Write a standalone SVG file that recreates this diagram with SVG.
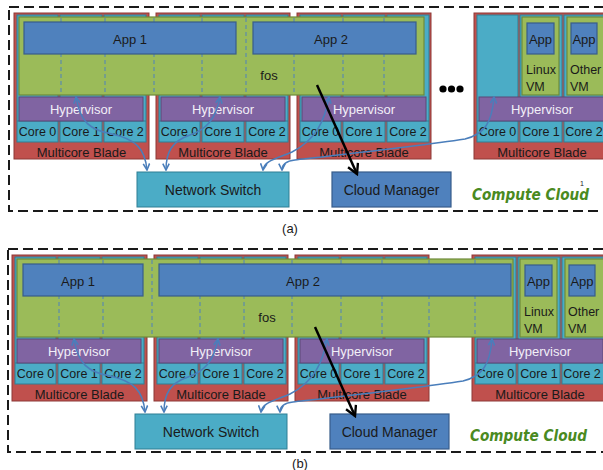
<svg xmlns="http://www.w3.org/2000/svg" width="603" height="470" viewBox="0 0 603 470">
<style>
  .frame{fill:none;stroke:#1a1a1a;stroke-width:2;stroke-dasharray:10 5}
  .red{fill:#c0504d;stroke:#8c3836;stroke-width:1}
  .cy{fill:#4bacc6;stroke:#2f7f94;stroke-width:1}
  .hv{fill:#8064a2;stroke:#5c4776;stroke-width:1}
  .fos{fill:#9bbb59;stroke:#6e8a3a;stroke-width:1.2}
  .app{fill:#4f81bd;stroke:#385d8a;stroke-width:1.2}
  .div{stroke:#4f81bd;stroke-width:1;stroke-dasharray:4 3;fill:none}
  .t{font-family:"Liberation Sans",Arial,sans-serif;fill:#1a1a1a;text-anchor:middle}
  .s13{font-size:13px}
  .s12{font-size:12.5px}
  .s14{font-size:14px}
  .w{fill:#f2eff7}
  .l{text-anchor:start}
  .cc{font-family:"Comic Sans MS","DejaVu Sans",sans-serif;font-style:italic;font-weight:bold;font-size:15px;fill:#4a8a1f}
  .con{fill:none;stroke:#4a7ebb;stroke-width:1.5}
  .blk{fill:none;stroke:#000;stroke-width:2.5}
</style>
<defs>
  <marker id="ab" viewBox="0 0 10 10" refX="9" refY="5" markerWidth="8" markerHeight="8" markerUnits="userSpaceOnUse" orient="auto-start-reverse">
    <path d="M1,1 L9,5 L1,9" fill="none" stroke="#4a7ebb" stroke-width="2"/>
  </marker>
  <marker id="ak" viewBox="0 0 12 12" refX="10" refY="6" markerWidth="13" markerHeight="13" markerUnits="userSpaceOnUse" orient="auto">
    <path d="M1,1 L10,6 L1,11" fill="none" stroke="#000" stroke-width="2.2"/>
  </marker>
</defs>

<!-- ========== Panel (a) ========== -->
<g id="panel-a">
  <rect class="frame" x="9" y="7" width="620" height="204"/>

  <g id="blade1-a">
    <rect class="red" x="14" y="13" width="135" height="146"/>
    <rect class="cy" x="17" y="15" width="41" height="127"/>
    <rect class="cy" x="60" y="15" width="42" height="127"/>
    <rect class="cy" x="104" y="15" width="42" height="127"/>
    <line x1="17" y1="121" x2="146" y2="121" stroke="#2f7f94"/>
    <rect class="hv" x="19" y="97" width="124" height="24"/>
    <text class="t s13 w" x="81" y="114">Hypervisor</text>
    <text class="t s12" x="37.5" y="136">Core 0</text>
    <text class="t s12" x="81" y="136">Core 1</text>
    <text class="t s12" x="125" y="136">Core 2</text>
    <text class="t s13" x="81.5" y="157">Multicore Blade</text>
  </g>
  <g id="blade2-a">
    <rect class="red" x="156" y="13" width="134" height="146"/>
    <rect class="cy" x="159" y="15" width="41" height="127"/>
    <rect class="cy" x="202" y="15" width="42" height="127"/>
    <rect class="cy" x="246" y="15" width="42" height="127"/>
    <line x1="159" y1="121" x2="288" y2="121" stroke="#2f7f94"/>
    <rect class="hv" x="161" y="97" width="124" height="24"/>
    <text class="t s13 w" x="223" y="114">Hypervisor</text>
    <text class="t s12" x="179.5" y="136">Core 0</text>
    <text class="t s12" x="223" y="136">Core 1</text>
    <text class="t s12" x="267" y="136">Core 2</text>
    <text class="t s13" x="223" y="157">Multicore Blade</text>
  </g>
  <g id="blade3-a">
    <rect class="red" x="297" y="13" width="134" height="146"/>
    <rect class="cy" x="300" y="15" width="41" height="127"/>
    <rect class="cy" x="343" y="15" width="42" height="127"/>
    <rect class="cy" x="387" y="15" width="42" height="127"/>
    <line x1="300" y1="121" x2="429" y2="121" stroke="#2f7f94"/>
    <rect class="hv" x="302" y="97" width="124" height="24"/>
    <text class="t s13 w" x="364" y="114">Hypervisor</text>
    <text class="t s12" x="320.5" y="136">Core 0</text>
    <text class="t s12" x="364" y="136">Core 1</text>
    <text class="t s12" x="408" y="136">Core 2</text>
    <text class="t s13" x="364" y="157">Multicore Blade</text>
  </g>
  <g id="blade4-a">
    <rect class="red" x="474" y="13" width="140" height="146"/>
    <rect class="cy" x="477" y="15" width="41" height="127"/>
    <rect class="cy" x="520" y="15" width="42" height="127"/>
    <rect class="cy" x="564" y="15" width="42" height="127"/>
    <line x1="477" y1="121" x2="606" y2="121" stroke="#2f7f94"/>
    <rect class="hv" x="479" y="97" width="126" height="24"/>
    <text class="t s13 w" x="542" y="114">Hypervisor</text>
    <text class="t s12" x="497.5" y="136">Core 0</text>
    <text class="t s12" x="541" y="136">Core 1</text>
    <text class="t s12" x="584" y="136">Core 2</text>
    <text class="t s13" x="542" y="157">Multicore Blade</text>
  </g>

  <g id="fos-a">
    <rect class="fos" x="19" y="17" width="405" height="78"/>
    <path class="div" d="M61,18V94M105,18V94M154,18V94M202,18V94M246,18V94M294,18V94M343,18V94M384,18V94"/>
    <text class="t s13" x="269" y="80">fos</text>
  </g>
  <g id="app1-a">
    <rect class="app" x="24" y="22" width="212" height="32"/>
    <text class="t s13" x="130" y="44">App 1</text>
  </g>
  <g id="app2-a">
    <rect class="app" x="253" y="22" width="163" height="32"/>
    <text class="t s13" x="331" y="44">App 2</text>
  </g>

  <g id="ellipsis-a" fill="#000">
    <circle cx="443" cy="89" r="3.6"/>
    <circle cx="451.5" cy="89" r="3.6"/>
    <circle cx="460" cy="89" r="3.6"/>
  </g>

  <g id="linuxvm-a">
    <rect class="fos" x="522" y="17" width="37" height="78"/>
    <rect class="app" x="527" y="23" width="27" height="31"/>
    <text class="t s13" x="540.5" y="44">App</text>
    <text class="t s12 l" x="526" y="74">Linux</text>
    <text class="t s12 l" x="526" y="91">VM</text>
  </g>
  <g id="othervm-a">
    <rect class="fos" x="567" y="17" width="40" height="78"/>
    <rect class="app" x="571" y="23" width="26" height="31"/>
    <text class="t s13" x="584" y="44">App</text>
    <text class="t s12 l" x="570" y="74">Other</text>
    <text class="t s12 l" x="570" y="91">VM</text>
  </g>

  <g id="switch-a">
    <rect class="cy" x="137" y="172" width="152" height="35"/>
    <text class="t s14" x="213" y="195">Network Switch</text>
  </g>
  <g id="manager-a">
    <rect class="app" x="332" y="172" width="119" height="35"/>
    <text class="t s14" x="391.5" y="195">Cloud Manager</text>
  </g>
  <g id="cloud-label-a">
    <text class="cc" x="472" y="200" textLength="117" lengthAdjust="spacingAndGlyphs">Compute Cloud</text>
    <text class="t" x="582" y="186" style="font-size:7px">1</text>
  </g>

  <g id="connectors-a">
    <path class="con" marker-start="url(#ab)" marker-end="url(#ab)" d="M76,97 C80,122 90,130 112,134 C135,139 145,148 147,170"/>
    <path class="con" marker-start="url(#ab)" marker-end="url(#ab)" d="M220,97 C216,120 205,130 190,135 C172,141 166,152 166,170"/>
    <path class="con" marker-start="url(#ab)" marker-end="url(#ab)" d="M329,97 C325,120 316,140 292,152 C275,159 264,161 263,170"/>
    <path class="con" marker-start="url(#ab)" marker-end="url(#ab)" d="M494,97 C492,122 485,134 465,139 C420,146 330,156 295,160 C286,161 282,164 282,170"/>
    <path class="blk" marker-end="url(#ak)" d="M317,85 L357,174"/>
  </g>

  <text class="t s13" x="290" y="233">(a)</text>
</g>

<!-- ========== Panel (b) ========== -->
<g id="panel-b" transform="translate(-2,242)">
  <rect class="frame" x="10" y="7" width="620" height="203"/>

  <g id="blade1-b">
    <rect class="red" x="14" y="13" width="135" height="146"/>
    <rect class="cy" x="17" y="15" width="41" height="127"/>
    <rect class="cy" x="60" y="15" width="42" height="127"/>
    <rect class="cy" x="104" y="15" width="42" height="127"/>
    <line x1="17" y1="121" x2="146" y2="121" stroke="#2f7f94"/>
    <rect class="hv" x="19" y="97" width="124" height="24"/>
    <text class="t s13 w" x="81" y="114">Hypervisor</text>
    <text class="t s12" x="37.5" y="136">Core 0</text>
    <text class="t s12" x="81" y="136">Core 1</text>
    <text class="t s12" x="125" y="136">Core 2</text>
    <text class="t s13" x="81.5" y="157">Multicore Blade</text>
  </g>
  <g id="blade2-b">
    <rect class="red" x="156" y="13" width="134" height="146"/>
    <rect class="cy" x="159" y="15" width="41" height="127"/>
    <rect class="cy" x="202" y="15" width="42" height="127"/>
    <rect class="cy" x="246" y="15" width="42" height="127"/>
    <line x1="159" y1="121" x2="288" y2="121" stroke="#2f7f94"/>
    <rect class="hv" x="161" y="97" width="124" height="24"/>
    <text class="t s13 w" x="223" y="114">Hypervisor</text>
    <text class="t s12" x="179.5" y="136">Core 0</text>
    <text class="t s12" x="223" y="136">Core 1</text>
    <text class="t s12" x="267" y="136">Core 2</text>
    <text class="t s13" x="223" y="157">Multicore Blade</text>
  </g>
  <g id="blade3-b">
    <rect class="red" x="297" y="13" width="134" height="146"/>
    <rect class="cy" x="300" y="15" width="41" height="127"/>
    <rect class="cy" x="343" y="15" width="42" height="127"/>
    <rect class="cy" x="387" y="15" width="42" height="127"/>
    <line x1="300" y1="121" x2="429" y2="121" stroke="#2f7f94"/>
    <rect class="hv" x="302" y="97" width="124" height="24"/>
    <text class="t s13 w" x="364" y="114">Hypervisor</text>
    <text class="t s12" x="320.5" y="136">Core 0</text>
    <text class="t s12" x="364" y="136">Core 1</text>
    <text class="t s12" x="408" y="136">Core 2</text>
    <text class="t s13" x="364" y="157">Multicore Blade</text>
  </g>
  <g id="blade4-b">
    <rect class="red" x="474" y="13" width="140" height="146"/>
    <rect class="cy" x="477" y="15" width="41" height="127"/>
    <rect class="cy" x="520" y="15" width="42" height="127"/>
    <rect class="cy" x="564" y="15" width="42" height="127"/>
    <line x1="477" y1="121" x2="606" y2="121" stroke="#2f7f94"/>
    <rect class="hv" x="479" y="97" width="126" height="24"/>
    <text class="t s13 w" x="542" y="114">Hypervisor</text>
    <text class="t s12" x="497.5" y="136">Core 0</text>
    <text class="t s12" x="541" y="136">Core 1</text>
    <text class="t s12" x="584" y="136">Core 2</text>
    <text class="t s13" x="542" y="157">Multicore Blade</text>
  </g>

  <g id="fos-b">
    <rect class="fos" x="19" y="17" width="496" height="78"/>
    <path class="div" d="M61,18V94M105,18V94M154,18V94M202,18V94M246,18V94M294,18V94M343,18V94M384,18V94M431,18V94M477,18V94"/>
    <text class="t s13" x="269" y="80">fos</text>
  </g>
  <g id="app1-b">
    <rect class="app" x="25" y="22" width="120" height="32"/>
    <text class="t s13" x="80" y="44">App 1</text>
  </g>
  <g id="app2-b">
    <rect class="app" x="161" y="22" width="352" height="32"/>
    <text class="t s13" x="305" y="44">App 2</text>
  </g>

  <g id="linuxvm-b">
    <rect class="fos" x="522" y="17" width="37" height="78"/>
    <rect class="app" x="527" y="23" width="27" height="31"/>
    <text class="t s13" x="540.5" y="44">App</text>
    <text class="t s12 l" x="526" y="74">Linux</text>
    <text class="t s12 l" x="526" y="91">VM</text>
  </g>
  <g id="othervm-b">
    <rect class="fos" x="567" y="17" width="40" height="78"/>
    <rect class="app" x="571" y="23" width="26" height="31"/>
    <text class="t s13" x="584" y="44">App</text>
    <text class="t s12 l" x="570" y="74">Other</text>
    <text class="t s12 l" x="570" y="91">VM</text>
  </g>

  <g id="switch-b">
    <rect class="cy" x="137" y="172" width="152" height="35"/>
    <text class="t s14" x="213" y="195">Network Switch</text>
  </g>
  <g id="manager-b">
    <rect class="app" x="332" y="172" width="119" height="35"/>
    <text class="t s14" x="391.5" y="195">Cloud Manager</text>
  </g>
  <g id="cloud-label-b">
    <text class="cc" x="472" y="199" textLength="117" lengthAdjust="spacingAndGlyphs">Compute Cloud</text>
  </g>

  <g id="connectors-b">
    <path class="con" marker-start="url(#ab)" marker-end="url(#ab)" d="M76,97 C80,122 90,130 112,134 C135,139 145,148 147,170"/>
    <path class="con" marker-start="url(#ab)" marker-end="url(#ab)" d="M220,97 C216,120 205,130 190,135 C172,141 166,152 166,170"/>
    <path class="con" marker-start="url(#ab)" marker-end="url(#ab)" d="M329,97 C325,120 316,140 292,152 C275,159 264,161 263,170"/>
    <path class="con" marker-start="url(#ab)" marker-end="url(#ab)" d="M494,97 C492,122 485,134 465,139 C420,146 330,156 295,160 C286,161 282,164 282,170"/>
    <path class="blk" marker-end="url(#ak)" d="M317,85 L357,174"/>
  </g>

  <text class="t s13" x="302" y="226">(b)</text>
</g>
</svg>
